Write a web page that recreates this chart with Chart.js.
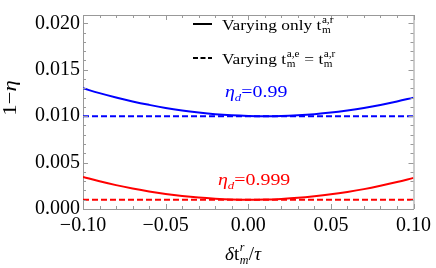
<!DOCTYPE html>
<html><head><meta charset="utf-8">
<script src="https://cdn.jsdelivr.net/npm/chart.js@4/dist/chart.umd.min.js"></script>
<style>html,body{margin:0;padding:0;background:#fff;}canvas{display:block}</style>
</head><body>
<canvas id="c" width="436" height="268"></canvas>
<script>
// ---- data ----
const xValues = [-0.10,-0.09,-0.08,-0.07,-0.06,-0.05,-0.04,-0.03,-0.02,-0.01,0.00,0.01,0.02,0.03,0.04,0.05,0.06,0.07,0.08,0.09,0.10];
const blueSolid = [0.01300,0.01248,0.01201,0.01159,0.01122,0.01089,0.01062,0.01040,0.01022,0.01010,0.01003,0.01000,0.01002,0.01010,0.01022,0.01039,0.01062,0.01089,0.01121,0.01158,0.01200];
const redSolid = [0.00345,0.00299,0.00257,0.00221,0.00189,0.00162,0.00140,0.00123,0.00111,0.00103,0.00100,0.00102,0.00109,0.00120,0.00137,0.00158,0.00184,0.00214,0.00250,0.00290,0.00335];
const dashedX = [-0.10, 0.10];
const blueDashed = [0.010, 0.010];
const redDashed = [0.001, 0.001];
const xTickValues = [-0.10,-0.05,0.00,0.05,0.10];
const yTickValues = [0.000,0.005,0.010,0.015,0.020];
const xTickLabels = ['\u22120.10','\u22120.05','0.00','0.05','0.10'];
const yTickLabels = ['0.000','0.005','0.010','0.015','0.020'];

const BLUE = 'rgb(0,0,255)';
const RED = 'rgb(255,0,0)';
const FONT = 'Liberation Serif';

function pts(xs, ys){ return xs.map((x,i)=>({x:x, y:ys[i]})); }

// rich text drawn at (0,0) of current transform; returns width
function richRaw(ctx, segs, size, color, measureOnly){
  ctx.fillStyle = color; ctx.textBaseline = 'alphabetic'; ctx.textAlign='left';
  let cx = 0;
  for (const s of segs){
    if (s.supsub){
      const sz = Math.round(size*0.62);
      ctx.font = (s.it?'italic ':'') + sz+'px "'+FONT+'"';
      const w1 = ctx.measureText(s.supsub[0]).width, w2 = ctx.measureText(s.supsub[1]).width;
      if (!measureOnly){
        ctx.fillText(s.supsub[0], cx+0.5, -size*0.45);
        ctx.fillText(s.supsub[1], cx+0.5, size*0.2);
      }
      cx += Math.max(w1,w2)+1;
      continue;
    }
    const sz = s.small ? Math.round(size*0.62) : size;
    ctx.font = (s.it?'italic ':'') + sz+'px "'+FONT+'"';
    let dy = 0;
    if (s.sup) dy = -size*0.42;
    if (s.sub) dy = size*0.22;
    if (!measureOnly) ctx.fillText(s.t, cx, dy);
    cx += ctx.measureText(s.t).width;
  }
  return cx;
}
function rich(ctx, x, y, segs, size, color, sx, align){
  ctx.save();
  const w = richRaw(ctx, segs, size, color, true) * sx;
  ctx.translate(align==='center' ? x - w/2 : x, y);
  ctx.scale(sx, 1);
  richRaw(ctx, segs, size, color, false);
  ctx.restore();
  return w;
}

const decor = {
  id:'decor',
  afterDatasetsDraw(chart){
    const ctx = chart.ctx, a = chart.chartArea, xs = chart.scales.x, ys = chart.scales.y;
    ctx.save();
    // frame top and right
    ctx.strokeStyle = '#999'; ctx.lineWidth = 1;
    ctx.beginPath();
    ctx.moveTo(a.left, a.top+0.5); ctx.lineTo(a.right+0.5, a.top+0.5); ctx.lineTo(a.right+0.5, a.bottom);
    ctx.stroke();
    // inside ticks
    ctx.beginPath();
    for (let k=-10;k<=10;k++){
      const px = Math.round(xs.getPixelForValue(k/100))+0.5;
      const L = (k%5===0)?5:3;
      ctx.moveTo(px, a.bottom); ctx.lineTo(px, a.bottom-L);
      ctx.moveTo(px, a.top); ctx.lineTo(px, a.top+L);
    }
    for (let k=0;k<=20;k++){
      const py = Math.round(ys.getPixelForValue(k/1000))+0.5;
      const L = (k%5===0)?5:3;
      ctx.moveTo(a.left, py); ctx.lineTo(a.left+L, py);
      ctx.moveTo(a.right, py); ctx.lineTo(a.right-L, py);
    }
    ctx.stroke();
    ctx.restore();

    // legend
    ctx.save();
    ctx.strokeStyle = '#000'; ctx.lineWidth = 2;
    ctx.beginPath(); ctx.moveTo(193,24); ctx.lineTo(212,24); ctx.stroke();
    ctx.setLineDash([5,2.5]);
    ctx.beginPath(); ctx.moveTo(193,58); ctx.lineTo(212,58); ctx.stroke();
    ctx.restore();
    const LS = 15.5, LSX = 1.12;
    rich(ctx, 222, 30, [{t:'Varying only t'},{supsub:['a,r','m']}], LS, '#000', LSX);
    rich(ctx, 222, 64, [{t:'Varying t'},{supsub:['a,e','m']},{t:' = t'},{supsub:['a,r','m']}], LS, '#000', LSX);

    // curve labels
    const AS = 17, ASX = 1.17;
    rich(ctx, 225, 97, [{t:'\u03b7',it:true},{t:'d',it:true,small:true,sub:true},{t:'=0.99'}], AS, BLUE, ASX);
    rich(ctx, 218, 185, [{t:'\u03b7',it:true},{t:'d',it:true,small:true,sub:true},{t:'=0.999'}], AS, RED, ASX);

    // x title
    rich(ctx, 243, 260, [{t:'\u03b4',it:true},{t:'t'},{supsub:['r','m'],it:true},{t:'/'},{t:'\u03c4',it:true}], 19, '#000', 1.0, 'center');

    // y title
    ctx.save();
    ctx.translate(16, 98);
    ctx.rotate(-Math.PI/2);
    rich(ctx, 0, 0, [{t:'1\u2212'},{t:'\u03b7',it:true}], 19, '#000', 1.2, 'center');
    ctx.restore();
  }
};

new Chart(document.getElementById('c'), {
  type:'line',
  data:{
    datasets:[
      {data:pts(xValues, blueSolid), borderColor:BLUE, borderWidth:2, pointRadius:0, tension:0.4, fill:false},
      {data:pts(dashedX, blueDashed), borderColor:BLUE, borderWidth:2, pointRadius:0, borderDash:[6,3], fill:false},
      {data:pts(xValues, redSolid), borderColor:RED, borderWidth:2, pointRadius:0, tension:0.4, fill:false},
      {data:pts(dashedX, redDashed), borderColor:RED, borderWidth:2, pointRadius:0, borderDash:[6,3], fill:false}
    ]
  },
  options:{
    responsive:false, animation:false, devicePixelRatio:1,
    layout:{padding:{left:0,right:19,top:3,bottom:0}},
    plugins:{legend:{display:false}, tooltip:{enabled:false}},
    scales:{
      x:{type:'linear', min:-0.1, max:0.1,
        afterBuildTicks:s=>{s.ticks = xTickValues.map(v=>({value:v}));},
        afterFit:s=>{s.height = 59;},
        ticks:{autoSkip:false, maxRotation:0, padding:5, color:'#000', font:{family:FONT,size:20},
          callback:(v)=>{const i = xTickValues.findIndex(t=>Math.abs(t-v)<1e-9); return i>=0?xTickLabels[i]:'';}},
        grid:{drawOnChartArea:false, drawTicks:false},
        border:{color:'#999', width:1}
      },
      y:{type:'linear', min:0, max:0.0209,
        afterBuildTicks:s=>{s.ticks = yTickValues.map(v=>({value:v}));},
        afterFit:s=>{s.width = 83;},
        ticks:{autoSkip:false, padding:3, color:'#000', font:{family:FONT,size:20},
          callback:(v)=>{const i = yTickValues.findIndex(t=>Math.abs(t-v)<1e-9); return i>=0?yTickLabels[i]:'';}},
        grid:{drawOnChartArea:false, drawTicks:false},
        border:{color:'#999', width:1}
      }
    }
  },
  plugins:[decor]
});
</script>
</body></html>
